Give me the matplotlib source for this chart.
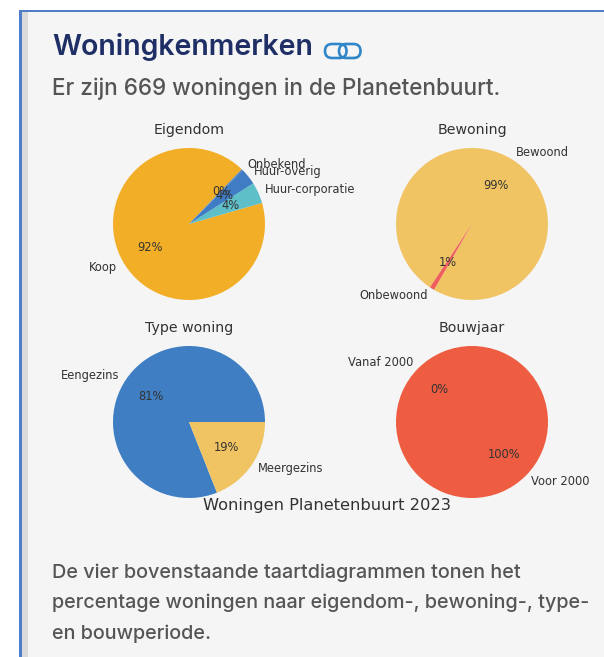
import matplotlib
matplotlib.use("Agg")
import matplotlib.pyplot as plt
from matplotlib.patches import Rectangle, FancyBboxPatch

W, H = 604, 657
CX = [189, 472]
CY = [224, 422]
R = 76

eig_labels = ["Koop", "Huur-corporatie", "Huur-overig", "Onbekend"]
eig_values = [91.7, 4.5, 3.5, 0.3]
eig_colors = ["#F2AE27", "#5FBFC9", "#3F7CC4", "#3F7CC4"]

bew_labels = ["Bewoond", "Onbewoond"]
bew_values = [99, 1]
bew_colors = ["#F0C462", "#EF5D5D"]

typ_labels = ["Eengezins", "Meergezins"]
typ_values = [81, 19]
typ_colors = ["#3F7EC3", "#F0C462"]

bou_labels = ["Voor 2000", "Vanaf 2000"]
bou_values = [100, 0]
bou_colors = ["#EE5D42", "#F0C462"]

TXT = "#333333"
fig = plt.figure(figsize=(W / 100, H / 100), dpi=100, facecolor="white")
bg = fig.add_axes([0, 0, 1, 1])
bg.set_xlim(0, W)
bg.set_ylim(H, 0)
bg.axis("off")
bg.add_patch(Rectangle((19, 11), W - 19, H - 11, fc="#F5F5F5", ec="none"))
bg.add_patch(Rectangle((19, 10), W - 19, 2.2, fc="#4F7DC8", ec="none"))
bg.add_patch(Rectangle((19, 10), 2.6, H - 10, fc="#4F7DC8", ec="none"))
bg.add_patch(Rectangle((21.6, 12.2), 6, H - 12, fc="#DADADA", ec="none"))

bg.text(52, 55, "Woningkenmerken", fontfamily="Inter", fontsize=20.5, fontweight=600, color="#1F2F66",
        va="baseline", ha="left")
bg.text(52, 95, "Er zijn 669 woningen in de Planetenbuurt.", fontfamily="Inter", fontsize=16.2,
        fontweight=500, color="#555555", va="baseline", ha="left")
for i, line in enumerate(["De vier bovenstaande taartdiagrammen tonen het",
                          "percentage woningen naar eigendom-, bewoning-, type-",
                          "en bouwperiode."]):
    bg.text(52, 578 + i * 30.3, line, fontfamily="Inter", fontsize=14.26, fontweight=500,
            color="#555555", va="baseline", ha="left")
for x0, col in [(325, "#2F86C8"), (339, "#2F86C8")]:
    bg.add_patch(FancyBboxPatch((x0, 44), 21.5, 14, boxstyle="round,pad=0,rounding_size=7",
                                fc="none", ec=col, lw=1.9))


def draw(col, row, title, labels, values, colors, start):
    cx, cy = CX[col], CY[row]
    ax = fig.add_axes([(cx - R) / W, 1 - (cy + R) / H, 2 * R / W, 2 * R / H])
    _, texts, autos = ax.pie(values, labels=labels, colors=colors, startangle=start,
                             autopct="%1.0f%%", textprops={"fontsize": 8.3, "color": TXT})
    ax.set_xlim(-1, 1)
    ax.set_ylim(-1, 1)
    ax.set_title(title, fontsize=10.2, color=TXT, pad=10)


draw(0, 0, "Eigendom", eig_labels, eig_values, eig_colors, 46)
draw(1, 0, "Bewoning", bew_labels, bew_values, bew_colors, 240)
draw(0, 1, "Type woning", typ_labels, typ_values, typ_colors, 0)
draw(1, 1, "Bouwjaar", bou_labels, bou_values, bou_colors, 135)

fig.text(327 / W, 1 - 510 / H, "Woningen Planetenbuurt 2023", fontsize=11.7, color=TXT,
         ha="center", va="baseline")
fig.savefig("out.png", dpi=100)
